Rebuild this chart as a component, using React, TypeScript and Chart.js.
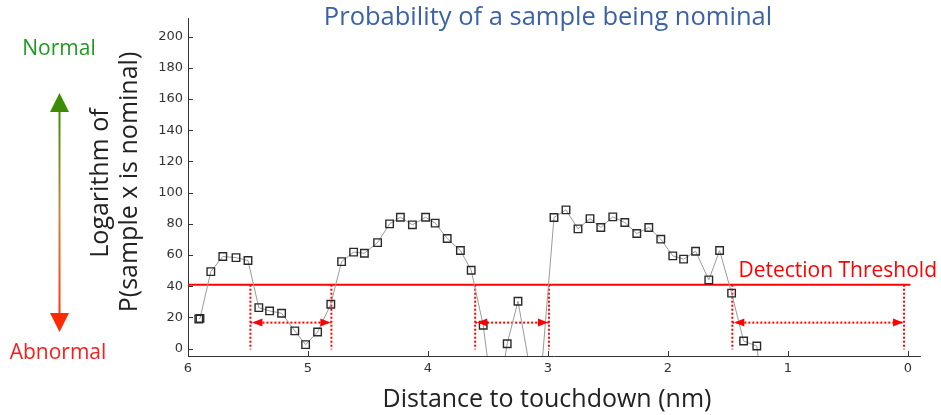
import { useEffect, useRef } from "react";
import { Chart, registerables } from "chart.js";

Chart.register(...registerables);

// Distance to touchdown (nm) for each sample, and the log-likelihood of the sample being nominal.
// Samples far below the axis are still part of the trace; the plot area clips them.
const distance = [
  5.91, 5.9, 5.81, 5.71, 5.6, 5.5, 5.41, 5.32, 5.22, 5.11, 5.02, 4.92, 4.81, 4.72, 4.62, 4.53, 4.42,
  4.32, 4.23, 4.13, 4.02, 3.94, 3.84, 3.73, 3.64, 3.54, 3.44, 3.34, 3.25, 3.15, 3.05, 2.95, 2.85,
  2.75, 2.65, 2.56, 2.46, 2.36, 2.26, 2.16, 2.06, 1.96, 1.87, 1.77, 1.66, 1.57, 1.47, 1.37, 1.26, 1.16,
];
const logLikelihood = [
  19.0, 19.4, 49.4, 59.1, 58.4, 56.5, 26.3, 24.2, 22.7, 11.4, 2.6, 10.7, 28.5, 55.8, 61.9, 61.2, 68.0,
  80.0, 84.3, 79.4, 84.3, 80.5, 70.6, 62.9, 50.3, 15.0, -45, 3.2, 30.4, -13, -10, 84.1, 89.0,
  76.8, 83.4, 77.7, 84.5, 80.9, 73.8, 77.7, 70.2, 59.5, 57.4, 62.5, 44.1, 62.9, 35.6, 4.9, 1.7, -60,
];

const xTicks = [0, 1, 2, 3, 4, 5, 6];
const yTicks = [0, 20, 40, 60, 80, 100, 120, 140, 160, 180, 200];

// Detection threshold and the distances where the trace crosses it
const threshold = 41;
const thresholdRange = [6, -0.02];
const crossings = [5.48, 4.805, 3.607, 2.992, 1.464, 0.033];
const gapSpans: [number, number][] = [
  [5.48, 4.805],
  [3.607, 2.992],
  [1.464, 0.033],
];
const spanLevel = 16.7;
const dropBottom = -0.5;

const RED = "#ff0000";
const TEXT_FONT = "'Open Sans', sans-serif";

const annotations = {
  id: "annotations",
  afterDatasetsDraw(chart: any) {
    const { ctx } = chart;
    const x = chart.scales.x;
    const y = chart.scales.y;
    const yl = y.getPixelForValue(spanLevel);
    ctx.save();
    ctx.fillStyle = RED;
    for (const [a, b] of gapSpans) {
      const pa = x.getPixelForValue(a);
      const pb = x.getPixelForValue(b);
      const l = Math.min(pa, pb) + 2;
      const r = Math.max(pa, pb) - 1;
      ctx.beginPath();
      ctx.moveTo(l, yl);
      ctx.lineTo(l + 10, yl - 4);
      ctx.lineTo(l + 10, yl + 4);
      ctx.closePath();
      ctx.fill();
      ctx.beginPath();
      ctx.moveTo(r, yl);
      ctx.lineTo(r - 10, yl - 4);
      ctx.lineTo(r - 10, yl + 4);
      ctx.closePath();
      ctx.fill();
    }
    ctx.restore();
  },
  afterDraw(chart: any) {
    const { ctx, chartArea } = chart;
    const x = chart.scales.x;
    const y = chart.scales.y;
    ctx.save();
    // inward tick marks
    ctx.strokeStyle = "#333";
    ctx.lineWidth = 1;
    ctx.beginPath();
    for (const v of yTicks) {
      const py = Math.round(y.getPixelForValue(v)) + 0.5;
      ctx.moveTo(chartArea.left, py);
      ctx.lineTo(chartArea.left + 5, py);
    }
    for (const v of xTicks) {
      const px = Math.round(x.getPixelForValue(v)) + 0.5;
      ctx.moveTo(px, chartArea.bottom);
      ctx.lineTo(px, chartArea.bottom - 5);
    }
    ctx.stroke();

    // title
    ctx.textAlign = "center";
    ctx.textBaseline = "middle";
    ctx.fillStyle = "#3b62a8";
    ctx.font = `25.5px ${TEXT_FONT}`;
    ctx.fillText("Probability of a sample being nominal", 548, 18);

    // x axis title
    ctx.fillStyle = "#222";
    ctx.font = `25px ${TEXT_FONT}`;
    ctx.fillText("Distance to touchdown (nm)", 547, 400);

    // y axis title, two rotated lines
    ctx.save();
    ctx.translate(101, 183);
    ctx.rotate(-Math.PI / 2);
    ctx.fillText("Logarithm of", 0, 0);
    ctx.restore();
    ctx.save();
    ctx.translate(130, 182);
    ctx.rotate(-Math.PI / 2);
    ctx.fillText("P(sample x is nominal)", 0, 0);
    ctx.restore();

    // threshold label
    ctx.textAlign = "right";
    ctx.fillStyle = RED;
    ctx.font = `21px ${TEXT_FONT}`;
    ctx.fillText("Detection Threshold", 937, 271);

    // Normal / Abnormal indicator
    ctx.textAlign = "center";
    ctx.font = `21px ${TEXT_FONT}`;
    ctx.fillStyle = "#1f9a1f";
    ctx.fillText("Normal", 59, 49);
    ctx.fillStyle = "#ff1a1a";
    ctx.fillText("Abnormal", 58, 353);

    const ax = 59.5;
    const grad = ctx.createLinearGradient(0, 112, 0, 313);
    grad.addColorStop(0, "#3f8f06");
    grad.addColorStop(0.5, "#c88a3a");
    grad.addColorStop(1, "#ff3a10");
    ctx.strokeStyle = grad;
    ctx.lineWidth = 2;
    ctx.beginPath();
    ctx.moveTo(ax, 110);
    ctx.lineTo(ax, 315);
    ctx.stroke();
    ctx.fillStyle = "#3c8c04";
    ctx.beginPath();
    ctx.moveTo(ax, 93);
    ctx.lineTo(ax - 9.5, 112);
    ctx.lineTo(ax + 9.5, 112);
    ctx.closePath();
    ctx.fill();
    ctx.fillStyle = "#ff2a00";
    ctx.beginPath();
    ctx.moveTo(ax, 332);
    ctx.lineTo(ax - 9.5, 313);
    ctx.lineTo(ax + 9.5, 313);
    ctx.closePath();
    ctx.fill();
    ctx.restore();
  },
};

export default function App() {
  const ref = useRef<HTMLCanvasElement | null>(null);

  useEffect(() => {
    if (!ref.current) return;
    const dotted = { borderColor: RED, borderWidth: 2, borderDash: [2, 2], pointRadius: 0, fill: false };
    const datasets: any[] = [
      {
        data: distance.map((d, i) => ({ x: d, y: logLikelihood[i] })),
        borderColor: "#9a9a9a",
        borderWidth: 1,
        pointStyle: "rect",
        pointRadius: 5.3,
        pointBorderWidth: 1.4,
        pointBorderColor: "#2a2a2a",
        pointBackgroundColor: "rgba(0,0,0,0)",
        fill: false,
      },
      {
        data: thresholdRange.map((d) => ({ x: d, y: threshold })),
        borderColor: RED,
        borderWidth: 2,
        pointRadius: 0,
        fill: false,
      },
      ...crossings.map((c) => ({
        ...dotted,
        data: [
          { x: c, y: threshold },
          { x: c, y: dropBottom },
        ],
      })),
      ...gapSpans.map(([a, b]) => ({
        ...dotted,
        data: [
          { x: a, y: spanLevel },
          { x: b, y: spanLevel },
        ],
      })),
    ];

    const tickFont = { family: "'DejaVu Sans', sans-serif", size: 13 };
    const chart = new Chart(ref.current, {
      type: "line",
      data: { datasets },
      options: {
        animation: false,
        responsive: false,
        maintainAspectRatio: false,
        devicePixelRatio: 1,
        layout: { padding: { left: 0, top: 18, right: 21, bottom: 0 } },
        plugins: {
          legend: { display: false },
          tooltip: { enabled: false },
          title: { display: false },
        },
        scales: {
          x: {
            type: "linear",
            reverse: true,
            min: -0.1,
            max: 6,
            afterBuildTicks: (s: any) => {
              s.ticks = xTicks.map((v) => ({ value: v }));
            },
            afterFit: (s: any) => {
              s.height = 59;
            },
            grid: { display: false, drawTicks: false },
            border: { display: true, color: "#333", width: 1 },
            ticks: { font: tickFont, color: "#333", padding: 5, maxRotation: 0, autoSkip: false },
          },
          y: {
            type: "linear",
            min: -4.7,
            max: 212,
            afterBuildTicks: (s: any) => {
              s.ticks = yTicks.map((v) => ({ value: v }));
            },
            afterFit: (s: any) => {
              s.width = 188;
            },
            grid: { display: false, drawTicks: false },
            border: { display: true, color: "#333", width: 1 },
            ticks: { font: tickFont, color: "#333", padding: 5, autoSkip: false },
          },
        },
      } as any,
      plugins: [annotations],
    });
    return () => chart.destroy();
  }, []);

  return (
    <div style={{ position: "fixed", left: 0, top: 0, width: 941, height: 415, background: "#fff" }}>
      <canvas ref={ref} width={941} height={415} style={{ width: 941, height: 415, display: "block" }} />
    </div>
  );
}
